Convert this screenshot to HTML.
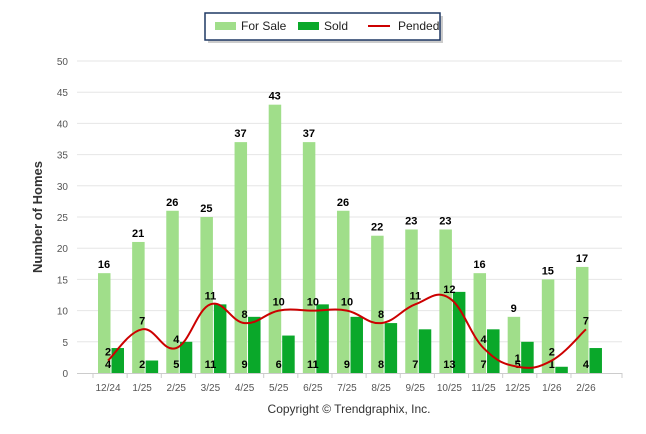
<!DOCTYPE html>
<html><head><meta charset="utf-8"><style>
body{margin:0;background:#fff;}
svg{display:block;font-family:"Liberation Sans",sans-serif;}
</style></head><body>
<svg id="c" width="646" height="434" xmlns="http://www.w3.org/2000/svg"></svg>
<script>
const fs=[16,21,26,25,37,43,37,26,22,23,23,16,9,15,17];
const sd=[4,2,5,11,9,6,11,9,8,7,13,7,5,1,4];
const pd=[2,7,4,11,8,10,10,10,8,11,12,4,1,2,7];
const lab=["12/24","1/25","2/25","3/25","4/25","5/25","6/25","7/25","8/25","9/25","10/25","11/25","12/25","1/26","2/26"];
const Y=v=>373-v*6.24, X=i=>110+i*34.14;
let s='';
s+='<rect x="208" y="16" width="235" height="27" fill="#999" opacity="0.5"/>';
s+='<rect x="205" y="13" width="235" height="27" fill="#fff" stroke="#1f3864" stroke-width="1.5"/>';
s+='<rect x="215" y="22" width="21" height="8" fill="#a0de8a"/><text x="241" y="30" font-size="12" fill="#222">For Sale</text>';
s+='<rect x="298" y="22" width="21" height="8" fill="#0aa82a"/><text x="324" y="30" font-size="12" fill="#222">Sold</text>';
s+='<line x1="368" y1="26" x2="390" y2="26" stroke="#c00" stroke-width="2"/><text x="398" y="30" font-size="12" fill="#222">Pended</text>';
for(let v=0;v<=50;v+=5){const y=Y(v);if(v>0)s+=`<line x1="77" y1="${y}" x2="622" y2="${y}" stroke="#e6e6e6"/>`;
s+=`<text x="68" y="${y+4}" font-size="10" fill="#555" text-anchor="end">${v}</text>`;}
s+='<line x1="77" y1="373.5" x2="622" y2="373.5" stroke="#ccc"/>';
s+='<text transform="translate(42,217) rotate(-90)" font-size="13" font-weight="bold" fill="#333" text-anchor="middle">Number of Homes</text>';
for(let i=0;i<15;i++){const c=X(i);
s+=`<line x1="${c-17}" y1="373" x2="${c-17}" y2="378" stroke="#ccc"/>`;
s+=`<rect x="${c-12}" y="${Y(fs[i])}" width="12.5" height="${fs[i]*6.24}" fill="#a0de8a"/>`;
s+=`<rect x="${c+1.5}" y="${Y(sd[i])}" width="12.5" height="${sd[i]*6.24}" fill="#0aa82a"/>`;
s+=`<text x="${c-6}" y="${Y(fs[i])-5}" font-size="11" font-weight="bold" text-anchor="middle">${fs[i]}</text>`;
s+=`<text x="${c-2}" y="${368}" font-size="11" font-weight="bold" text-anchor="middle">${sd[i]}</text>`;
s+=`<text x="${c-2}" y="${Y(pd[i])-5}" font-size="11" font-weight="bold" text-anchor="middle">${pd[i]}</text>`;
s+=`<text x="${c-2}" y="391" font-size="10" fill="#555" text-anchor="middle">${lab[i]}</text>`;}
s+=`<line x1="622" y1="373" x2="622" y2="378" stroke="#ccc"/>`;
// smooth line
const P=pd.map((v,i)=>[X(i)-2,Y(v)]);
let d=`M${P[0][0]},${P[0][1]}`;
for(let i=0;i<14;i++){const p0=P[Math.max(i-1,0)],p1=P[i],p2=P[i+1],p3=P[Math.min(i+2,14)];
const t=0.2;const c1=[p1[0]+(p2[0]-p0[0])*t,p1[1]+(p2[1]-p0[1])*t];const c2=[p2[0]-(p3[0]-p1[0])*t,p2[1]-(p3[1]-p1[1])*t];
d+=` C${c1[0]},${c1[1]} ${c2[0]},${c2[1]} ${p2[0]},${p2[1]}`;}
s+=`<path d="${d}" fill="none" stroke="#c00" stroke-width="2"/>`;
s+='<text x="349" y="413" font-size="12" fill="#333" text-anchor="middle">Copyright © Trendgraphix, Inc.</text>';
document.getElementById('c').innerHTML=s;
</script>
</body></html>
